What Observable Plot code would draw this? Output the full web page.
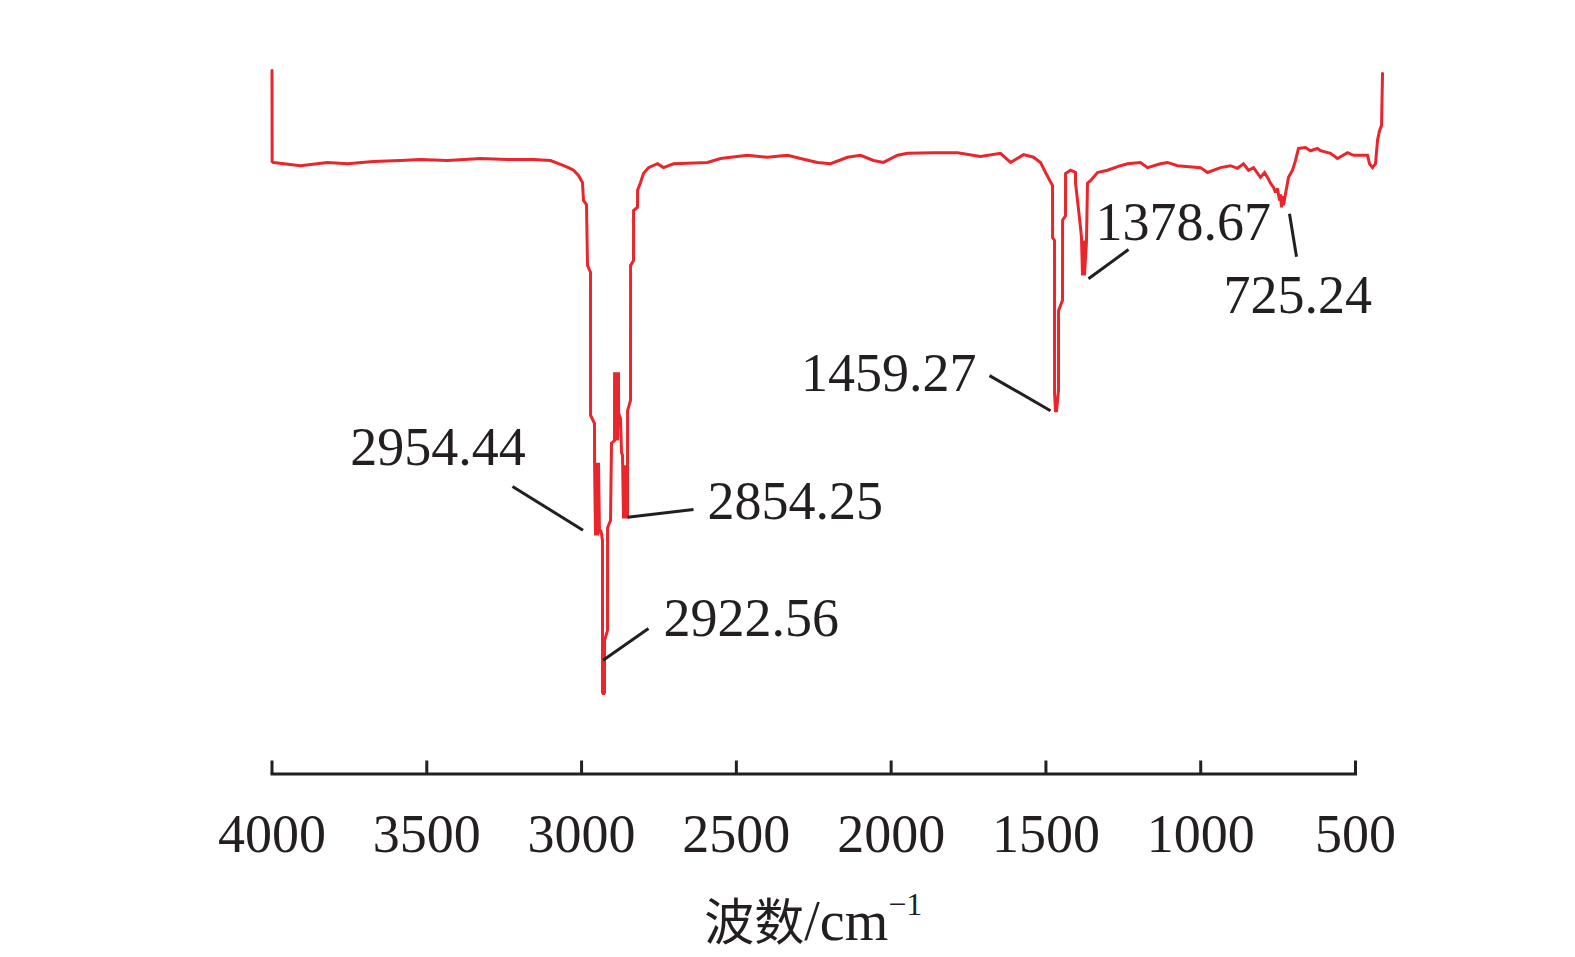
<!DOCTYPE html>
<html>
<head>
<meta charset="utf-8">
<script src="https://cdn.jsdelivr.net/npm/d3@7"></script>
<script src="https://cdn.jsdelivr.net/npm/@observablehq/plot@0.6"></script>
<style>
  html, body { margin: 0; padding: 0; background: #ffffff; }
  svg { display: block; }
</style>
</head>
<body>
<div id="chart"></div>
<script>
// Wavenumber (cm^-1) and transmittance (arbitrary %)
const wavenumber = [
  4000, 3999.5, 3995.2, 3907.9, 3820.7, 3756.1, 3672.1, 3584.9, 3520.3, 3433.1,
  3326.5, 3239.3, 3155.3, 3100.4, 3068.0, 3042.2, 3026.1, 3009.9, 2997.0, 2993.8,
  2984.1, 2980.8, 2971.2, 2971.0, 2958.2, 2958.0, 2955.0, 2951.8, 2948.5, 2945.3,
  2942.1, 2938.8, 2935.6, 2932.5, 2932.3, 2929.1, 2925.9, 2925.7, 2916.2, 2916.0,
  2906.5, 2903.3, 2893.6, 2893.4, 2890.4, 2887.1, 2883.9, 2880.7, 2880.5, 2874.2,
  2871.0, 2867.8, 2864.5, 2861.3, 2858.1, 2854.9, 2851.6, 2851.4, 2841.9, 2841.7,
  2832.2, 2832.0, 2819.3, 2819.1, 2809.6, 2799.9, 2783.8, 2754.7, 2735.3, 2703.0,
  2593.2, 2551.2, 2464.0, 2399.4, 2334.8, 2292.8, 2237.9, 2195.9, 2141.0, 2099.0,
  2057.0, 2024.7, 1979.4, 1947.1, 1863.2, 1785.6, 1711.3, 1646.7, 1614.4, 1572.4,
  1540.1, 1517.5, 1501.3, 1478.7, 1478.5, 1472.3, 1472.1, 1469.0, 1465.8, 1459.4,
  1459.2, 1446.4, 1446.2, 1436.8, 1436.6, 1420.6, 1404.5, 1404.3, 1388.3, 1385.1,
  1381.8, 1378.6, 1375.4, 1368.9, 1365.7, 1356.0, 1333.4, 1301.1, 1259.1, 1236.5,
  1194.5, 1171.9, 1129.9, 1107.3, 1075.0, 1000.7, 978.1, 936.1, 903.8, 881.1,
  861.8, 845.6, 829.5, 806.9, 793.9, 784.2, 774.5, 764.8, 758.4, 751.9,
  745.5, 742.2, 739.0, 735.7, 732.5, 726.1, 716.4, 703.5, 693.8, 684.1,
  661.5, 645.3, 622.7, 613.0, 580.7, 558.1, 525.8, 506.4, 483.8, 461.2,
  454.7, 445.0, 435.3, 428.8, 422.4, 415.9, 412.7
];
const transmittance = [
  107.85, 93.85, 93.7, 93.2, 93.7, 93.5, 93.85, 94.0, 94.15, 94.0,
  94.3, 94.15, 94.15, 94.0, 93.4, 92.9, 92.5, 91.7, 90.6, 87.85,
  87.2, 77.85, 76.8, 54.8, 53.5, 47.5, 36.3, 47.5, 36.3, 47.5,
  36.6, 37.1, 36.6, 35.5, 12.15, 11.85, 12.15, 20.15, 21.7, 37.5,
  38.6, 50.5, 50.9, 61.4, 50.9, 61.4, 50.9, 61.4, 55.2, 54.3,
  49.1, 48.6, 38.9, 47.1, 38.9, 45.1, 38.9, 55.5, 57.1, 77.85,
  78.6, 86.3, 86.8, 89.4, 90.6, 92.0, 92.9, 93.5, 92.9, 93.5,
  93.7, 94.3, 94.8, 94.5, 94.8, 94.3, 93.7, 93.5, 94.5, 94.8,
  94.0, 93.7, 94.8, 95.1, 95.2, 95.2, 94.6, 95.1, 93.7, 94.9,
  94.5, 93.7, 92.15, 90.15, 82.15, 81.7, 58.15, 55.5, 55.5, 58.6,
  70.9, 72.5, 84.8, 85.5, 92.0, 92.5, 92.15, 90.5, 83.7, 82.15,
  76.3, 81.7, 76.3, 81.7, 90.5, 90.9, 92.15, 92.5, 93.2, 93.5,
  93.7, 92.9, 93.5, 93.7, 93.2, 92.9, 92.15, 92.9, 93.2, 92.8,
  93.5, 92.5, 92.9, 91.4, 92.15, 91.4, 90.5, 89.85, 89.1, 89.7,
  87.85, 88.8, 86.8, 88.5, 87.1, 88.9, 91.4, 92.5, 94.0, 95.85,
  96.0, 95.5, 95.85, 95.5, 95.1, 94.3, 95.2, 94.8, 94.8, 94.8,
  93.5, 92.9, 93.5, 97.1, 98.6, 99.4, 107.4
];

// Axis ticks
const tickValues = [4000, 3500, 3000, 2500, 2000, 1500, 1000, 500];

// Peak annotations
const peakNames   = ["2954.44", "2922.56", "2854.25", "1459.27", "1378.67", "725.24"];
const leaderFromWn = [2995.4, 2930.4, 2851.6, 1485.2, 1362.5, 713.2];
const leaderFromT  = [37.1, 17.1, 39.1, 55.5, 75.8, 85.8];
const leaderToWn   = [3223.1, 2783.8, 2638.4, 1682.3, 1233.2, 690.6];
const leaderToT    = [43.85, 22.0, 40.3, 60.9, 80.3, 79.2];
const labelWn      = [3464.1, 2735.3, 2593.2, 1724.3, 1339.8, 926.4];
const labelT       = [47.2, 20.9, 38.8, 58.6, 81.8, 70.6];
const labelAnchor  = ["middle", "start", "start", "end", "start", "start"];

const spectrum = wavenumber.map((w, i) => ({wn: w, t: transmittance[i]}));
const notes = peakNames.map((name, i) => ({
  name,
  x1: leaderFromWn[i], y1: leaderFromT[i],
  x2: leaderToWn[i], y2: leaderToT[i],
  lx: labelWn[i], ly: labelT[i], anchor: labelAnchor[i]
}));

const RED = "#e8262b";
const INK = "#231f20";
const W = 1575, H = 957;
const mTop = 43, mBottom = 183.5, mLeft = 271.5, mRight = 220;
const frameH = H - mTop - mBottom;

const chart = Plot.plot({
  width: W,
  height: H,
  marginTop: mTop,
  marginBottom: mBottom,
  marginLeft: mLeft,
  marginRight: mRight,
  style: {
    fontFamily: "'Liberation Serif', 'Times New Roman', serif",
    fontSize: "54px",
    color: INK,
    background: "#ffffff"
  },
  x: {domain: [4000, 500]},
  y: {domain: [-0.4, 112], axis: null},
  marks: [
    Plot.frame({anchor: "bottom", stroke: INK, strokeWidth: 3}),
    Plot.gridX(tickValues, {stroke: INK, strokeOpacity: 1, strokeWidth: 3, insetTop: frameH - 13}),
    Plot.axisX(tickValues, {
      anchor: "bottom", tickSize: 0, tickPadding: 40, fontSize: 54,
      tickFormat: "d", label: null, fill: INK
    }),
    Plot.line(spectrum, {x: "wn", y: "t", stroke: RED, strokeWidth: 3, strokeLinejoin: "miter", strokeMiterlimit: 2}),
    Plot.link(notes, {x1: "x1", y1: "y1", x2: "x2", y2: "y2", stroke: INK, strokeWidth: 3}),
    Plot.text(notes.filter(d => d.anchor === "middle"), {x: "lx", y: "ly", text: "name", textAnchor: "middle", lineAnchor: "bottom", fontSize: 54, fill: INK}),
    Plot.text(notes.filter(d => d.anchor === "start"), {x: "lx", y: "ly", text: "name", textAnchor: "start", lineAnchor: "bottom", fontSize: 54, fill: INK}),
    Plot.text(notes.filter(d => d.anchor === "end"), {x: "lx", y: "ly", text: "name", textAnchor: "end", lineAnchor: "bottom", fontSize: 54, fill: INK})
  ]
});

// x-axis title with superscript
const [r0, r1] = chart.scale("x").range;
const title = d3.select(chart).append("text")
  .attr("x", (r0 + r1) / 2)
  .attr("y", H - 17)
  .attr("text-anchor", "middle")
  .attr("fill", INK)
  .style("font-family", "'Liberation Serif', 'Noto Sans CJK SC', serif");
title.append("tspan").attr("font-size", 50).style("font-family", "'Noto Sans CJK SC', sans-serif").text("波数");
title.append("tspan").attr("font-size", 56).text("/cm");
title.append("tspan").attr("font-size", 32).attr("dy", -25).text("−1");

document.getElementById("chart").appendChild(chart);
</script>
</body>
</html>
